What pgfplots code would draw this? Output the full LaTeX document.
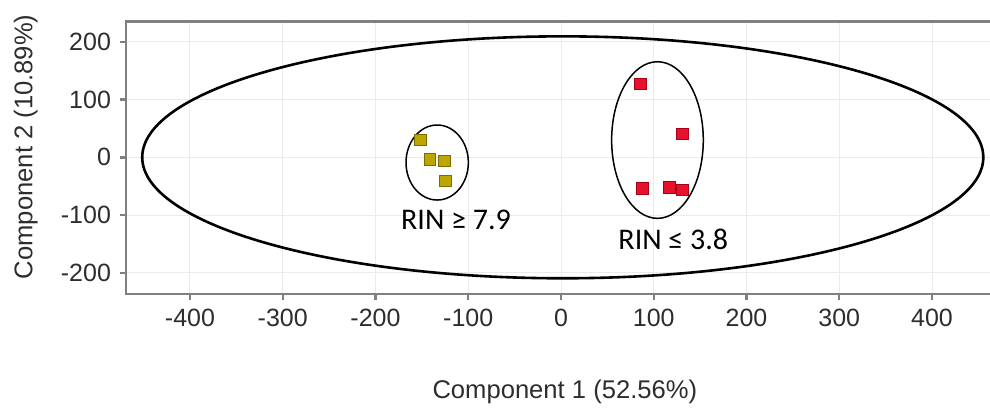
\documentclass[border=0pt]{standalone}
\usepackage{pgfplots}
\pgfplotsset{compat=1.18}
\usepackage{fontspec}
\setmainfont{Liberation Sans}
\newfontfamily\calib{Carlito}
\definecolor{spine}{RGB}{128,128,128}
\definecolor{gridc}{RGB}{235,235,235}
\definecolor{tickc}{RGB}{45,45,45}
\definecolor{yfill}{RGB}{190,166,0}
\definecolor{ydraw}{RGB}{125,108,0}
\definecolor{rfill}{RGB}{232,17,45}
\definecolor{rdraw}{RGB}{165,0,25}
\begin{document}
\begin{tikzpicture}
\useasboundingbox (0,0) rectangle (495pt,204pt);
\begin{axis}[
  at={(63pt,57pt)}, anchor=south west,
  width=434.5pt, height=136.25pt, scale only axis,
  xmin=-469, xmax=467.9, ymin=-236.5, ymax=235,
  xtick={-400,-300,-200,-100,0,100,200,300,400},
  xticklabels={-400,-300,-200,-100,0,100,200,300,400},
  ytick={-200,-100,0,100,200},
  yticklabels={-200,-100,0,100,200},
  axis line style={spine, line width=1.2pt},
  tick align=outside, major tick length=3pt,
  tick style={spine, line width=1.2pt},
  xtick pos=bottom, ytick pos=left,
  grid=major, major grid style={gridc, line width=0.5pt},
  ticklabel style={font=\fontsize{12.5}{15}\selectfont, text=tickc},
  xticklabel style={yshift=-1pt},
  yticklabel style={xshift=-1pt},
  xlabel={Component 1 (52.56\%)},
  ylabel={Component 2 (10.89\%)},
  every axis x label/.style={at={(axis description cs:0.505,-0.3817)}, anchor=base, font=\fontsize{12.8}{15}\selectfont, text=tickc},
  every axis y label/.style={at={(axis description cs:-0.1076,0.54)}, anchor=base, rotate=90, font=\fontsize{12.8}{15}\selectfont, text=tickc},
]
\draw[black, line width=1.3pt] (axis cs:1.9,0) ellipse [x radius=453.4, y radius=209.3];
\draw[black, line width=0.75pt] (axis cs:-133.5,-9) ellipse [x radius=33.6, y radius=64.9];
\draw[black, line width=0.75pt] (axis cs:104,29.9) ellipse [x radius=49.4, y radius=135.5];
\addplot[only marks, mark=square*, mark size=2.9pt,
  mark options={fill=yfill, draw=ydraw, line width=0.5pt}] coordinates {
  (-151.3,29.9) (-141.2,-3.5) (-125.8,-6.4) (-124.3,-41)
};
\addplot[only marks, mark=square*, mark size=2.9pt,
  mark options={fill=rfill, draw=rdraw, line width=0.5pt}] coordinates {
  (85.9,126.8) (131.2,40.3) (88.1,-53.6) (116.8,-52.6) (131.2,-56.6)
};
\node[anchor=base, font=\calib\fontsize{15}{18}\selectfont] at (axis cs:-113.2,-124.6) {RIN ≥ 7.9};
\node[anchor=base, font=\calib\fontsize{15}{18}\selectfont] at (axis cs:121.1,-159.2) {RIN ≤ 3.8};
\end{axis}
\end{tikzpicture}
\end{document}
